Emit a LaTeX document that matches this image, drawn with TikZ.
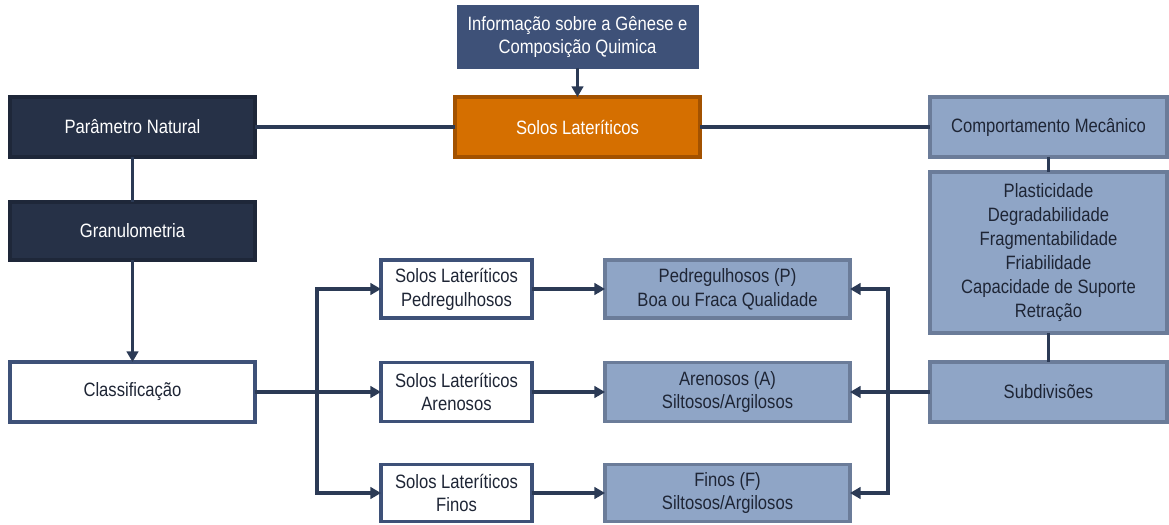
\documentclass[tikz,border=0pt]{standalone}
\usepackage{fontspec}
\setmainfont{Liberation Sans}[FakeStretch=0.86]
\usetikzlibrary{arrows.meta}
\definecolor{navy}{HTML}{263147}
\definecolor{slate}{HTML}{3E5178}
\definecolor{wire}{HTML}{2B3A55}
\definecolor{laterite}{HTML}{D56F00}
\definecolor{lateritedark}{HTML}{A35200}
\definecolor{pale}{HTML}{8FA5C6}
\definecolor{paledark}{HTML}{6B7C99}
\definecolor{ink}{HTML}{1E2535}
\begin{document}
\begin{tikzpicture}[x=0.02cm,y=-0.02cm,
    >={Triangle[length=6pt,width=6.5pt]},
    box/.style={draw, line width=1.8pt, align=center, inner sep=0pt, outer sep=0pt,
        font=\fontsize{11}{13.6}\selectfont},
    darkbox/.style={box, fill=navy, draw=navy!80!black, text=white},
    infobox/.style={box, fill=slate, draw=slate, text=white, line width=0.6pt},
    orangebox/.style={box, fill=laterite, draw=lateritedark, text=white},
    palebox/.style={box, fill=pale, draw=paledark, text=ink},
    whitebox/.style={box, fill=white, draw=slate, text=ink},
    wire/.style={draw=wire, line width=1.8pt},
    trunk/.style={wire, line width=2.6pt}]
    \useasboundingbox (0,0) rectangle (1169,524);

    % top row
    \node[infobox, minimum width=4.82cm, minimum height=1.24cm] (info) at (577.5,37) {Informação sobre a Gênese e\\Composição Quimica};
    \node[orangebox, minimum width=4.9cm, minimum height=1.2cm] (solos) at (577.5,127) {Solos Lateríticos};
    \node[darkbox, minimum width=4.9cm, minimum height=1.2cm] (param) at (132.5,127) {Parâmetro Natural};
    \node[palebox, minimum width=4.74cm, minimum height=1.2cm] (comp) at (1048.5,127) {Comportamento Mecânico};

    % left column
    \node[darkbox, minimum width=4.9cm, minimum height=1.16cm] (granu) at (132.5,231) {Granulometria};
    \node[whitebox, minimum width=4.9cm, minimum height=1.2cm] (classif) at (132.5,392) {Classificação};

    % right column
    \node[palebox, minimum width=4.74cm, minimum height=3.22cm] (props) at (1048.5,252.5) {Plasticidade\\Degradabilidade\\Fragmentabilidade\\Friabilidade\\Capacidade de Suporte\\Retração};
    \node[palebox, minimum width=4.74cm, minimum height=1.2cm] (subdiv) at (1048.5,392) {Subdivisões};

    % soil groups
    \node[whitebox, minimum width=3.02cm, minimum height=1.16cm] (slp) at (456.5,289) {Solos Lateríticos\\Pedregulhosos};
    \node[whitebox, minimum width=3.02cm, minimum height=1.18cm] (sla) at (456.5,392) {Solos Lateríticos\\Arenosos};
    \node[whitebox, minimum width=3.02cm, minimum height=1.14cm] (slf) at (456.5,493) {Solos Lateríticos\\Finos};

    \node[palebox, minimum width=4.9cm, minimum height=1.16cm] (pp) at (727.5,289) {Pedregulhosos (P)\\Boa ou Fraca Qualidade};
    \node[palebox, minimum width=4.9cm, minimum height=1.18cm] (pa) at (727.5,392) {Arenosos (A)\\Siltosos/Argilosos};
    \node[palebox, minimum width=4.9cm, minimum height=1.14cm] (pf) at (727.5,493) {Finos (F)\\Siltosos/Argilosos};

    % connectors
    \draw[wire,->] (info) -- (solos);
    \draw[wire] (param) -- (solos);
    \draw[wire] (solos) -- (comp);
    \draw[wire] (param) -- (granu);
    \draw[wire,->] (granu) -- (classif);
    \draw[wire] (comp) -- (props);
    \draw[wire] (props) -- (subdiv);

    \coordinate (lsplit) at (317,392);
    \coordinate (rsplit) at (888,392);
    \draw[trunk] (classif) -- (lsplit);
    \draw[wire,->] (lsplit) |- (slp);
    \draw[wire,->] (lsplit) -- (sla);
    \draw[wire,->] (lsplit) |- (slf);

    \draw[wire,->] (slp) -- (pp);
    \draw[wire,->] (sla) -- (pa);
    \draw[wire,->] (slf) -- (pf);

    \draw[trunk] (subdiv) -- (rsplit);
    \draw[wire,->] (rsplit) |- (pp);
    \draw[wire,->] (rsplit) -- (pa);
    \draw[wire,->] (rsplit) |- (pf);
\end{tikzpicture}
\end{document}
